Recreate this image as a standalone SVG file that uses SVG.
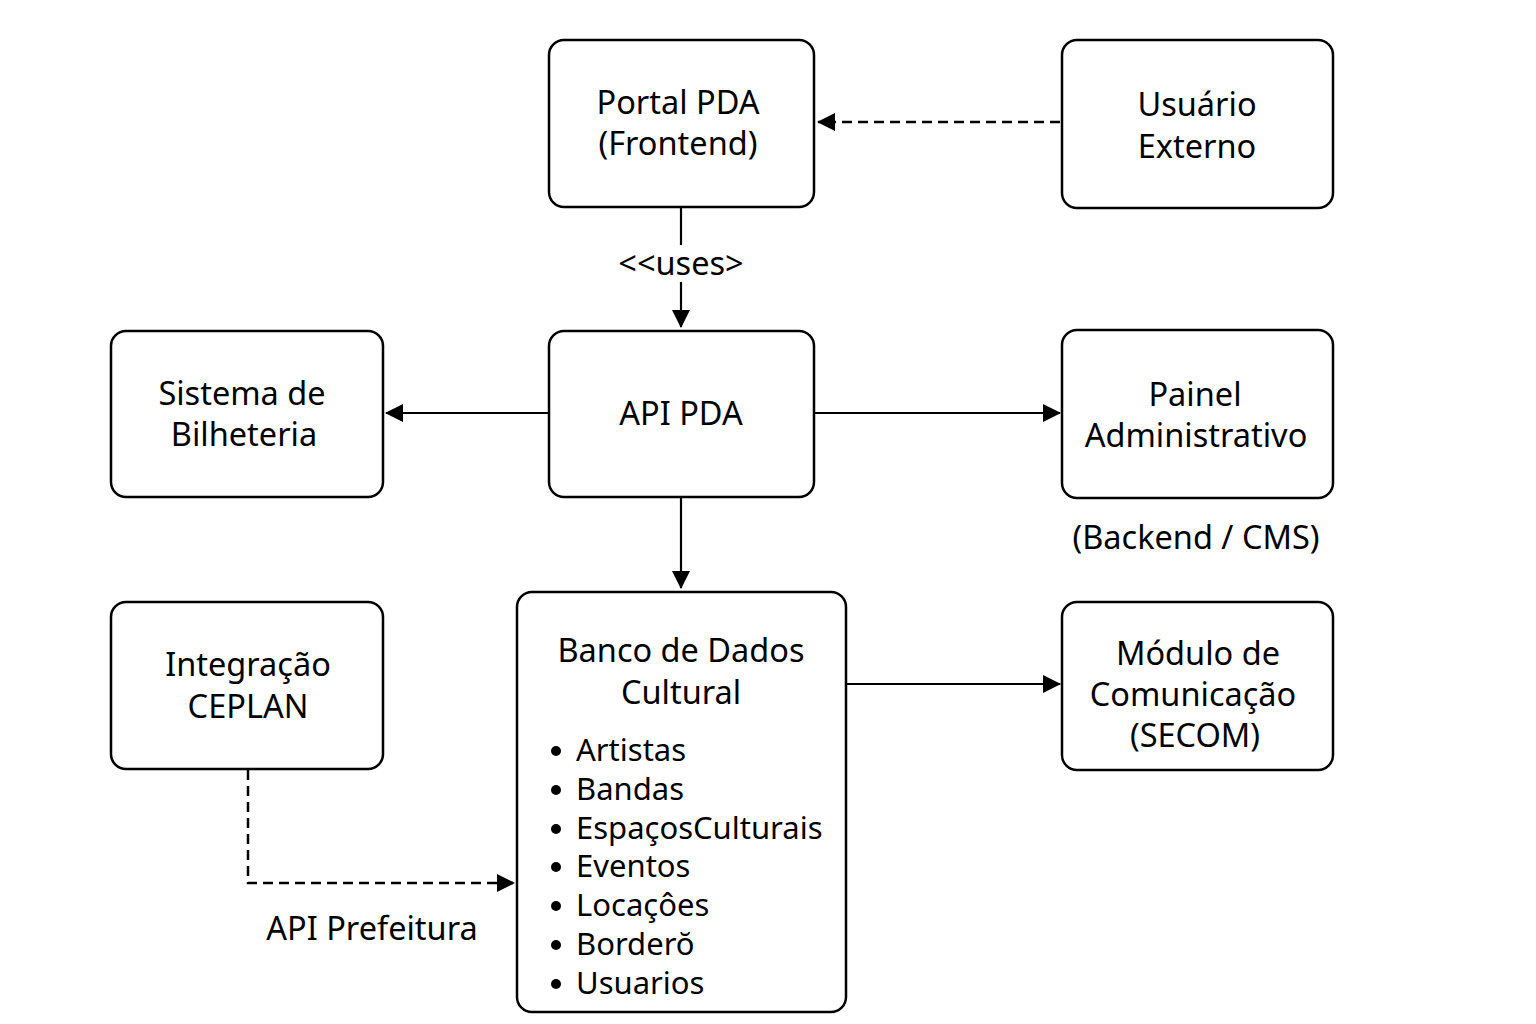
<svg xmlns="http://www.w3.org/2000/svg" width="1536" height="1024" viewBox="0 0 1536 1024">
<defs>
<marker id="ahb" markerWidth="18" markerHeight="20" refX="17" refY="10" orient="auto" markerUnits="userSpaceOnUse" viewBox="0 0 18 20">
<path d="M0,1 L18,10 L0,19 z" fill="#000"/>
</marker>
<style>
.box{fill:#fff;stroke:#000;stroke-width:2.5}
.t{font-family:"Noto Sans","Liberation Sans",sans-serif;font-size:32.5px;fill:#000;text-anchor:middle}
.l{font-family:"Noto Sans","Liberation Sans",sans-serif;font-size:31px;fill:#000}
.c{fill:none;stroke:#000;stroke-width:2.2;marker-end:url(#ahb)}
.p{fill:none;stroke:#000;stroke-width:2.2}
.d{stroke-dasharray:10,6;stroke-width:2.5}
</style>
</defs>
<rect width="1536" height="1024" fill="#fff"/>
<g id="connectors">
<path class="c d" d="M1060,122 H818"/>
<path class="p" d="M681,208 V245"/>
<path class="c" d="M681,282 V327" />
<path class="c" d="M549,413 H386"/>
<path class="c" d="M814,413 H1060"/>
<path class="c" d="M681,498 V588"/>
<path class="c" d="M846,684 H1060"/>
<path class="c d" d="M248,770 V883 H514"/>
<text class="t" x="681" y="275">&lt;&lt;uses&gt;</text>
<text class="t" x="372" y="940">API Prefeitura</text>
<text class="t" x="1196" y="549">(Backend / CMS)</text>
</g>
<g id="portal">
<rect class="box" x="549" y="40" width="265" height="167" rx="15"/>
<text class="t" x="678" y="114">Portal PDA</text>
<text class="t" x="678" y="155">(Frontend)</text>
</g>
<g id="usuario">
<rect class="box" x="1062" y="40" width="271" height="168" rx="15"/>
<text class="t" x="1197" y="116">Usuário</text>
<text class="t" x="1197" y="158">Externo</text>
</g>
<g id="bilheteria">
<rect class="box" x="111" y="331" width="272" height="166" rx="15"/>
<text class="t" x="242" y="405">Sistema de</text>
<text class="t" x="244" y="446">Bilheteria</text>
</g>
<g id="api">
<rect class="box" x="549" y="331" width="265" height="166" rx="15"/>
<text class="t" x="681" y="425">API PDA</text>
</g>
<g id="painel">
<rect class="box" x="1062" y="330" width="271" height="168" rx="15"/>
<text class="t" x="1195" y="406">Painel</text>
<text class="t" x="1196" y="447">Administrativo</text>
</g>
<g id="ceplan">
<rect class="box" x="111" y="602" width="272" height="167" rx="15"/>
<text class="t" x="248" y="676">Integração</text>
<text class="t" x="248" y="718">CEPLAN</text>
</g>
<g id="banco">
<rect class="box" x="517" y="592" width="329" height="420" rx="15"/>
<text class="t" x="681" y="662">Banco de Dados</text>
<text class="t" x="681" y="704">Cultural</text>
<g class="l">
<circle cx="556" cy="751" r="5"/><text x="576" y="761">Artistas</text>
<circle cx="556" cy="790" r="5"/><text x="576" y="800">Bandas</text>
<circle cx="556" cy="829" r="5"/><text x="576" y="839">EspaçosCulturais</text>
<circle cx="556" cy="867" r="5"/><text x="576" y="877">Eventos</text>
<circle cx="556" cy="906" r="5"/><text x="576" y="916">Locaçôes</text>
<circle cx="556" cy="945" r="5"/><text x="576" y="955">Borderŏ</text>
<circle cx="556" cy="984" r="5"/><text x="576" y="994">Usuarios</text>
</g>
</g>
<g id="modulo">
<rect class="box" x="1062" y="602" width="271" height="168" rx="15"/>
<text class="t" x="1198" y="665">Módulo de</text>
<text class="t" x="1193" y="706">Comunicação</text>
<text class="t" x="1195" y="747">(SECOM)</text>
</g>
</svg>
